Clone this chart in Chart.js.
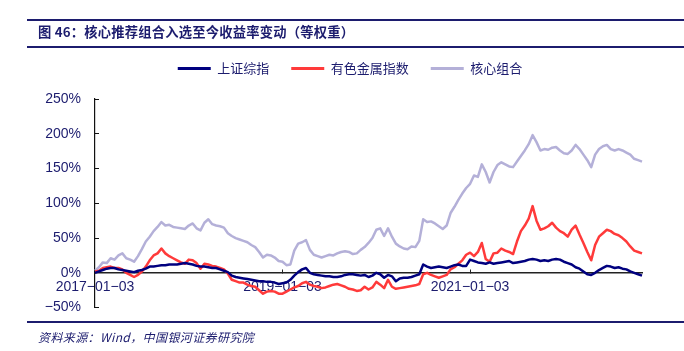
<!DOCTYPE html>
<html>
<head>
<meta charset="utf-8">
<script src="https://cdn.jsdelivr.net/npm/chart.js@4.4.1/dist/chart.umd.min.js"></script>
<style>
  body { margin: 0; width: 684px; height: 351px; background: #fff; position: relative; overflow: hidden; }
  #wrap { position: absolute; left: 0; top: 0; width: 684px; height: 334px; }
  .rule { position: absolute; left: 27px; right: 0; height: 2px; background: #1c1c6e; }
  #title { position: absolute; left: 38px; top: 22px; font-family: "Noto Sans CJK SC", sans-serif; font-size: 13.3px; font-weight: bold; color: #1c1c6e; letter-spacing: 0.2px; white-space: nowrap; }
  #source { position: absolute; left: 38px; top: 328px; font-family: "Noto Sans CJK SC", sans-serif; font-size: 12px; font-style: italic; color: #1c1c6e; letter-spacing: 0.4px; white-space: nowrap; }
</style>
</head>
<body>
<div id="wrap"><canvas id="chart"></canvas></div>
<div class="rule" style="top:19px"></div>
<div id="title">图 46：核心推荐组合入选至今收益率变动（等权重）</div>
<div class="rule" style="top:46px"></div>
<div class="rule" style="top:321px; height:1.5px"></div>
<div id="source">资料来源：Wind，中国银河证券研究院</div>

<script>
// half-monthly points, 2017-01-01 .. 2022-11-01
var dates = [
  '2017-01-01','2017-01-15','2017-02-01','2017-02-15','2017-03-01','2017-03-15','2017-04-01','2017-04-15','2017-05-01','2017-05-15','2017-06-01','2017-06-15',
  '2017-07-01','2017-07-15','2017-08-01','2017-08-15','2017-09-01','2017-09-15','2017-10-01','2017-10-15','2017-11-01','2017-11-15','2017-12-01','2017-12-15',
  '2018-01-01','2018-01-15','2018-02-01','2018-02-15','2018-03-01','2018-03-15','2018-04-01','2018-04-15','2018-05-01','2018-05-15','2018-06-01','2018-06-15',
  '2018-07-01','2018-07-15','2018-08-01','2018-08-15','2018-09-01','2018-09-15','2018-10-01','2018-10-15','2018-11-01','2018-11-15','2018-12-01','2018-12-15',
  '2019-01-01','2019-01-15','2019-02-01','2019-02-15','2019-03-01','2019-03-15','2019-04-01','2019-04-15','2019-05-01','2019-05-15','2019-06-01','2019-06-15',
  '2019-07-01','2019-07-15','2019-08-01','2019-08-15','2019-09-01','2019-09-15','2019-10-01','2019-10-15','2019-11-01','2019-11-15','2019-12-01','2019-12-15',
  '2020-01-01','2020-01-15','2020-02-01','2020-02-15','2020-03-01','2020-03-15','2020-04-01','2020-04-15','2020-05-01','2020-05-15','2020-06-01','2020-06-15',
  '2020-07-01','2020-07-15','2020-08-01','2020-08-15','2020-09-01','2020-09-15','2020-10-01','2020-10-15','2020-11-01','2020-11-15','2020-12-01','2020-12-15',
  '2021-01-01','2021-01-15','2021-02-01','2021-02-15','2021-03-01','2021-03-15','2021-04-01','2021-04-15','2021-05-01','2021-05-15','2021-06-01','2021-06-15',
  '2021-07-01','2021-07-15','2021-08-01','2021-08-15','2021-09-01','2021-09-15','2021-10-01','2021-10-15','2021-11-01','2021-11-15','2021-12-01','2021-12-15',
  '2022-01-01','2022-01-15','2022-02-01','2022-02-15','2022-03-01','2022-03-15','2022-04-01','2022-04-15','2022-05-01','2022-05-15','2022-06-01','2022-06-15',
  '2022-07-01','2022-07-15','2022-08-01','2022-08-15','2022-09-01','2022-09-15','2022-10-01','2022-10-15','2022-11-01'
]

// x-axis labels shown and the point index they sit at
var tickLabels = { 0: '2017\u221201\u221203', 48: '2019\u221201\u221203', 96: '2021\u221201\u221203' }

// returns in %
var shIndex = [
  0, 2, 4, 6, 7, 7, 5, 4, 3, 2, 1, 3,
  4, 6, 9, 9, 10, 11, 11, 12, 12, 12, 13, 14,
  13, 12, 10, 9, 9, 8, 7, 7, 5, 3, 1, -4,
  -6, -7, -8, -9, -10, -11, -12, -12, -13, -13, -14, -16,
  -15, -14, -10, -4, 1, 5, 7, 0, -2, -3, -4, -5,
  -5, -6, -6, -5, -3, -2, -2, -3, -4, -3, -6, -4,
  0, -2, -7, -3, -5, -12, -8, -7, -7, -6, -4, -2,
  12, 9, 7, 8, 9, 8, 7, 9, 11, 12, 10, 10,
  19, 17, 15, 14, 13, 15, 13, 14, 15, 16, 17, 14,
  15, 16, 17, 19, 20, 19, 17, 18, 17, 19, 20, 19,
  16, 14, 12, 8, 6, 2, -2, -3, 0, 4, 7, 10,
  9, 7, 8, 6, 5, 2, 0, -2, -4
]

var metalIndex = [
  2, 3, 7, 8, 9, 7, 7, 5, 0, -3, -6, -3,
  2, 9, 18, 25, 28, 35, 28, 24, 21, 18, 15, 13,
  19, 18, 14, 6, 13, 12, 10, 9, 7, 5, -1, -10,
  -12, -14, -14, -17, -19, -20, -25, -30, -27, -26, -27, -30,
  -30, -27, -24, -21, -19, -15, -13, -17, -19, -20, -22, -21,
  -19, -17, -16, -18, -20, -23, -24, -26, -25, -20, -24, -21,
  -13, -17, -22, -10, -20, -23, -22, -21, -20, -19, -18, -16,
  -2, 0, -3, -5, -7, -5, -3, 5, 8, 13, 18, 26,
  29, 24, 30, 43, 20, 16, 28, 29, 35, 32, 30, 27,
  45, 60, 68, 78, 96, 75, 62, 64, 67, 72, 65, 60,
  57, 52, 62, 68, 55, 43, 30, 18, 40, 52, 57, 62,
  60, 56, 54, 50, 45, 38, 32, 30, 28
]

var corePortfolio = [
  3, 8, 15, 14, 21, 19, 25, 28, 21, 19, 16, 24,
  34, 45, 52, 60, 66, 73, 68, 69, 66, 65, 64, 63,
  68, 71, 64, 61, 72, 77, 70, 68, 67, 65, 57, 53,
  50, 48, 46, 44, 40, 37, 30, 22, 26, 25, 22, 17,
  16, 11, 12, 32, 42, 44, 47, 33, 26, 24, 22, 24,
  26, 25, 28, 30, 31, 30, 27, 28, 33, 37, 43, 50,
  62, 64, 53, 64, 52, 42, 38, 35, 34, 38, 37, 46,
  77, 73, 74, 71, 67, 63, 68, 86, 95, 105, 114, 122,
  128, 140, 138, 156, 145, 130, 145, 155, 159, 156, 153, 152,
  160, 168, 176, 185, 198, 188, 176, 178, 177, 180, 181, 176,
  172, 171, 176, 184, 178, 170, 162, 152, 170, 178, 182, 184,
  178, 176, 178, 176, 173, 170, 164, 162, 160
]

var navy = '#1c1c6e'
var tickFont = { family: 'Liberation Sans, Arial, sans-serif', size: 14 }

// extra space under the legend, before the plot starts
var legendGap = {
  id: 'legendGap',
  afterInit: function (chart) {
    var fit = chart.legend.fit
    chart.legend.fit = function () {
      fit.call(this)
      this.height += 14
    }
  }
}

var ctx = document.getElementById('chart').getContext('2d')
var chart = new Chart(ctx, {
  type: 'line',
  data: {
    labels: dates,
    datasets: [
      { label: '上证综指', data: shIndex, borderColor: '#00007f', borderWidth: 2.5 },
      { label: '有色金属指数', data: metalIndex, borderColor: '#ff3a3a', borderWidth: 2.5 },
      { label: '核心组合', data: corePortfolio, borderColor: '#b4b0d8', borderWidth: 2.5 }
    ]
  },
  plugins: [legendGap],
  options: {
    responsive: true,
    maintainAspectRatio: false,
    animation: false,
    layout: { padding: { top: 40, left: 16, right: 0, bottom: 0 } },
    elements: {
      point: { radius: 0 },
      line: { tension: 0, borderJoinStyle: 'round' }
    },
    plugins: {
      tooltip: { enabled: false },
      legend: {
        position: 'top',
        labels: {
          boxWidth: 33,
          boxHeight: 3,
          padding: 22,
          color: navy,
          font: { family: 'Noto Sans CJK SC', size: 13 },
          generateLabels: function (c) {
            return Chart.defaults.plugins.legend.labels.generateLabels(c).map(function (l) {
              l.fillStyle = l.strokeStyle
              l.lineWidth = 0
              return l
            })
          }
        }
      }
    },
    scales: {
      x: {
        type: 'category',
        offset: false,
        position: { y: 0 },
        afterFit: function (s) { s.height = 20 },
        border: { color: '#222', width: 1.5 },
        grid: { drawOnChartArea: false, drawTicks: true, tickLength: -4, color: '#222' },
        ticks: {
          autoSkip: false,
          maxRotation: 0,
          padding: 10,
          color: navy,
          font: tickFont,
          callback: function (v, i) { return tickLabels[i] === undefined ? null : tickLabels[i] }
        }
      },
      y: {
        min: -50,
        max: 250,
        afterFit: function (s) { s.width = 79 },
        border: { color: '#111', width: 1.2 },
        grid: { drawOnChartArea: false, drawTicks: true, tickLength: -4, color: '#111' },
        ticks: {
          stepSize: 50,
          padding: 18,
          color: navy,
          font: tickFont,
          callback: function (v) { return (v < 0 ? '\u2212' + Math.abs(v) : v) + '%' }
        }
      },
      // empty spacer on the right so the plot ends where the original does
      yRight: {
        axis: 'y',
        type: 'linear',
        position: 'right',
        display: false,
        afterFit: function (s) { s.width = 42 }
      }
    }
  }
})
</script>
</body>
</html>
